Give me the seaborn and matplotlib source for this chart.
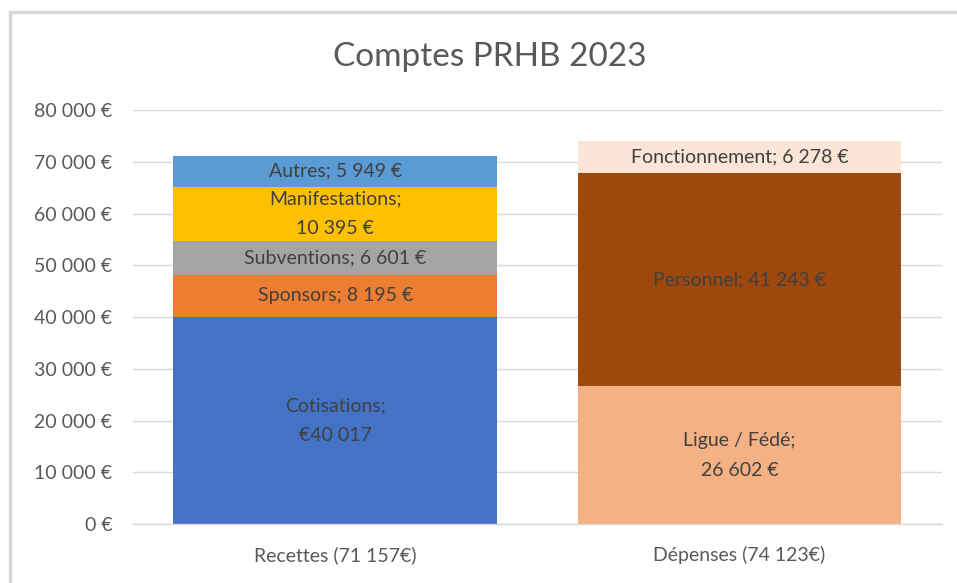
"""Comptes PRHB 2023 - stacked bars recettes / depenses"""
import matplotlib
matplotlib.use("Agg")
import matplotlib.pyplot as plt
import seaborn as sns
import pandas as pd
from matplotlib.patches import Rectangle

categories = ["Recettes (71 157€)", "Dépenses (74 123€)"]

recettes_names = ["Cotisations", "Sponsors", "Subventions", "Manifestations", "Autres"]
recettes_values = [40017, 8195, 6601, 10395, 5949]
recettes_labels = ["Cotisations;\n€40 017", "Sponsors; 8 195 €", "Subventions; 6 601 €",
                   "Manifestations;\n10 395 €", "Autres; 5 949 €"]
recettes_colors = ["#4472C4", "#ED7D31", "#A5A5A5", "#FFC000", "#5B9BD5"]

depenses_names = ["Ligue / Fédé", "Personnel", "Fonctionnement"]
depenses_values = [26602, 41243, 6278]
depenses_labels = ["Ligue / Fédé;\n26 602 €", "Personnel; 41 243 €", "Fonctionnement; 6 278 €"]
depenses_colors = ["#F4B183", "#9E480E", "#FBE5D6"]

y_ticks = list(range(0, 80001, 10000))

sns.set_style("white")
plt.rcParams["font.family"] = ["Lato", "DejaVu Sans"]

fig = plt.figure(figsize=(9.57, 5.83), dpi=100)
ax = fig.add_axes([0.139, 0.101, 0.845, 0.710])

# chart border (excel style)
fig.patches.append(Rectangle((10 / 957, -0.1), 1.2, 1 - 12 / 583 + 0.1, transform=fig.transFigure,
                             fill=False, edgecolor="#d9d9d9", linewidth=2.5, zorder=0))

series = [
    (categories[0], recettes_values, recettes_labels, recettes_colors),
    (categories[1], depenses_values, depenses_labels, depenses_colors),
]

for cat, values, labels, colors in series:
    df = pd.DataFrame({"cat": cat, "value": values, "label": labels, "color": colors})
    df["top"] = df["value"].cumsum()
    df["mid"] = df["top"] - df["value"] / 2
    # draw from the highest cumulative down so each layer shows its own segment
    for _, row in df.iloc[::-1].iterrows():
        sns.barplot(x=[row["cat"]], y=[row["top"]], order=categories, color=row["color"],
                    saturation=1, width=0.8, linewidth=0, ax=ax, zorder=2)
    xpos = categories.index(cat)
    for _, row in df.iterrows():
        ax.text(xpos, row["mid"], row["label"], ha="center", va="center",
                fontsize=14, color="#404040", linespacing=1.95, zorder=3)

ax.set_ylim(0, 80000)
ax.set_xlim(-0.5, 1.5)
ax.set_yticks(y_ticks)
ax.set_yticklabels([f"{v:,} €".replace(",", " ") for v in y_ticks])
ax.yaxis.grid(True, color="#d9d9d9", linewidth=1)
ax.set_axisbelow(True)
ax.tick_params(axis="y", length=0, pad=15, labelsize=14, labelcolor="#595959")
ax.tick_params(axis="x", length=0, pad=16, labelsize=14, labelcolor="#595959")
ax.set_xlabel("")
ax.set_ylabel("")
for side in ["left", "right", "top"]:
    ax.spines[side].set_visible(False)
ax.spines["bottom"].set_color("#d9d9d9")
ax.spines["bottom"].set_linewidth(1)

fig.text(0.512, 1 - 57 / 583, "Comptes PRHB 2023", ha="center", va="center",
         fontsize=24, color="#595959")

fig.savefig("out.png", dpi=100)
